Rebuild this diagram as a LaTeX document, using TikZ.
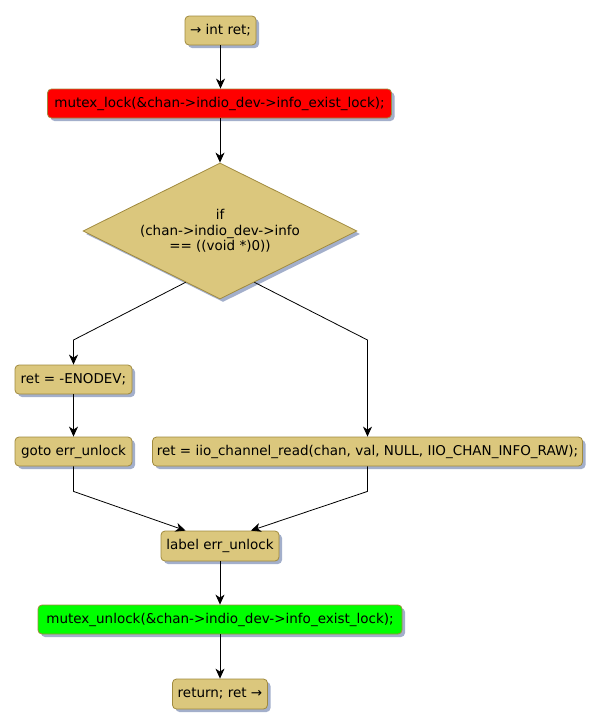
\documentclass[tikz,border=0pt]{standalone}
\usepackage{fontspec}
\setmainfont{DejaVu Sans}
\usetikzlibrary{shapes.geometric,shadows,calc,arrows.meta}
\definecolor{actfill}{HTML}{DBC77D}
\definecolor{actdraw}{HTML}{A08A3E}
\definecolor{shadowc}{HTML}{A3AFCB}
\tikzset{
  shad/.style={drop shadow={shadow xshift=3pt,shadow yshift=-3pt,fill=shadowc,opacity=1}},
  act/.style={draw=actdraw,fill=actfill,rounded corners=4pt,line width=0.8pt,shad,
    inner sep=0pt,font=\fontsize{13.5}{15}\selectfont,text=black},
  dec/.style={diamond,shape aspect=2,draw=actdraw,fill=actfill,line width=0.8pt,shad,inner sep=0pt,
    align=center,font=\fontsize{13.5}{15.5}\selectfont},
  flow/.style={-{Stealth[length=10pt,width=9pt,inset=3pt]},line width=0.8pt},
}
\begin{document}
\begin{tikzpicture}[x=1pt,y=-1pt]
\useasboundingbox (0,0) rectangle (599,728);
\node[act,minimum width=71pt,minimum height=29pt] (start) at (220.5,30.5) {→ int ret;};
\node[act,fill=red,minimum width=344pt,minimum height=29pt] (lock) at (219.5,103.5) {mutex\_lock(\&chan->indio\_dev->info\_exist\_lock);};
\node[dec,minimum width=274pt,minimum height=136pt] (d) at (220,231) {if\\(chan->indio\_dev->info\\== ((void *)0))};
\node[act,minimum width=117pt,minimum height=29pt] (enodev) at (73.5,379.5) {ret = -ENODEV;};
\node[act,minimum width=117pt,minimum height=29pt] (goto) at (73.5,451.5) {goto err\_unlock};
\node[act,minimum width=430pt,minimum height=29pt] (iio) at (367.5,451.5) {ret = iio\_channel\_read(chan, val, NULL, IIO\_CHAN\_INFO\_RAW);};
\node[act,minimum width=118pt,minimum height=30pt] (lbl) at (220,546) {label err\_unlock};
\node[act,fill=green,minimum width=364pt,minimum height=29pt] (unlock) at (220,619.5) {mutex\_unlock(\&chan->indio\_dev->info\_exist\_lock);};
\node[act,minimum width=95pt,minimum height=30pt] (ret) at (220,694) {return; ret →};

\draw[flow] (start.south) -- (start.south |- lock.north);
\draw[flow] (lock.south -| d.north) -- (d.north);
\coordinate (dl) at ($(d.west)!0.75!(d.south)$);
\coordinate (dr) at ($(d.east)!0.75!(d.south)$);
\draw[flow] (dl) -- (enodev.north |- 0,340) -- (enodev.north);
\draw[flow] (dr) -- (iio.north |- 0,340) -- (iio.north);
\draw[flow] (enodev) -- (goto);
\draw[flow] (goto.south) -- ++(0,25) -- ($(lbl.north west)!0.21!(lbl.north east)$);
\draw[flow] (iio.south) -- ++(0,25) -- ($(lbl.north west)!0.76!(lbl.north east)$);
\draw[flow] (lbl) -- (unlock);
\draw[flow] (unlock) -- (ret);
\end{tikzpicture}
\end{document}
